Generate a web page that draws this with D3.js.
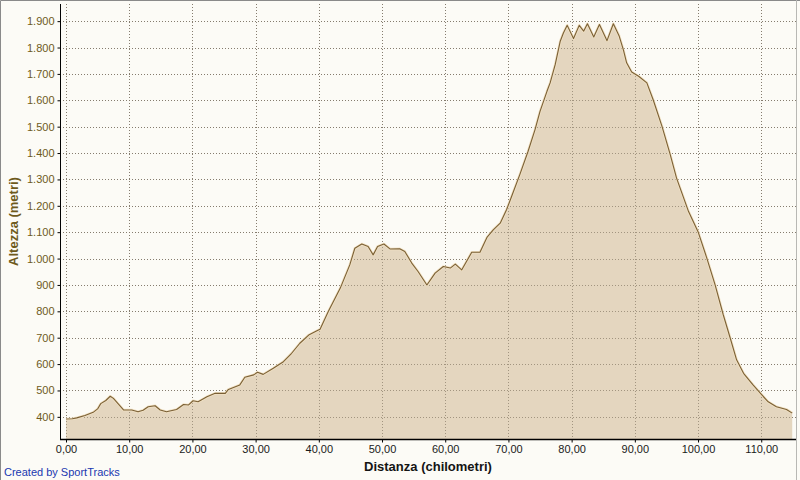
<!DOCTYPE html>
<html>
<head>
<meta charset="utf-8">
<script src="https://cdn.jsdelivr.net/npm/d3@7"></script>
<style>
  html, body { margin: 0; padding: 0; background: #fcfbf6; }
  svg { display: block; }
</style>
</head>
<body>
<svg id="chart" width="800" height="480"></svg>
<script>
// Distance (km)
const distanceKm = [0, 1.0, 1.7, 3.0, 4.3, 5.0, 5.5, 6.3, 7.0, 7.5, 8.3, 9.1, 10.4, 11.4, 12.2, 13.0, 14.1, 14.9, 15.9, 17.5,
  18.6, 19.4, 20.1, 20.9, 22.3, 23.6, 25.2, 25.7, 27.5, 28.3, 29.7, 30.3, 31.2, 32.8, 34.4, 35.7, 37.0, 38.4, 39.7, 40.2,
  41.5, 43.4, 44.9, 45.7, 46.8, 47.8, 48.6, 49.3, 50.3, 51.3, 52.8, 53.6, 54.7, 55.7, 57.1, 58.4, 59.7, 60.8, 61.6, 62.6,
  64.2, 65.5, 66.6, 67.6, 68.7, 69.7, 70.5, 71.8, 73.1, 74.2, 75.0, 76.1, 76.6, 77.4, 78.2, 78.7, 79.3, 80.3, 81.2, 81.9,
  82.5, 83.5, 84.4, 85.6, 86.6, 87.5, 88.2, 88.7, 89.5, 90.6, 91.9, 92.9, 94.3, 95.6, 96.6, 98.5, 100.0, 101.4, 102.7, 104.0,
  105.1, 106.1, 107.2, 108.7, 110.1, 111.1, 112.4, 114.0, 114.9];
// Altitude (m)
const altitudeM = [392, 393, 396, 405, 417, 430, 450, 462, 478, 470, 448, 426, 426, 419, 425, 438, 442, 426, 419, 428,
  447, 445, 461, 457, 476, 489, 489, 504, 521, 550, 559, 569, 561, 584, 609, 641, 679, 710, 726, 732,
  799, 888, 976, 1039, 1055, 1046, 1014, 1046, 1055, 1036, 1037, 1027, 983, 951, 900, 945, 970, 964, 979, 957,
  1024, 1024, 1080, 1109, 1134, 1185, 1235, 1318, 1406, 1488, 1558, 1634, 1666, 1735, 1824, 1855, 1884, 1834, 1884, 1862,
  1890, 1840, 1887, 1826, 1890, 1845, 1790, 1742, 1707, 1691, 1666, 1602, 1501, 1394, 1305, 1178, 1102, 1001, 900, 786,
  698, 616, 565, 521, 483, 457, 438, 428, 414];

const xTickValues = [0, 10, 20, 30, 40, 50, 60, 70, 80, 90, 100, 110];
const yTickValues = [400, 500, 600, 700, 800, 900, 1000, 1100, 1200, 1300, 1400, 1500, 1600, 1700, 1800, 1900];

const xTitle = "Distanza (chilometri)";
const yTitle = "Altezza (metri)";
const credit = "Created by SportTracks";

const data = distanceKm.map((d, i) => ({ km: d, alt: altitudeM[i] }));

const locale = d3.formatLocale({ decimal: ",", thousands: ".", grouping: [3], currency: ["", " €"] });
const fmtX = locale.format(".2f");
const fmtY = locale.format(",d");

const svg = d3.select("#chart");
const W = 800, H = 480;
const plot = { left: 60, right: 796, top: 4, bottom: 439 };

// background + border
svg.append("rect").attr("x", 0).attr("y", 0).attr("width", W).attr("height", H).attr("fill", "#fcfbf6");
svg.append("path").attr("d", `M0.5,${H} V0.5 H${W}`).attr("fill", "none").attr("stroke", "#8a8a8a");
svg.append("path").attr("d", `M796.5,0 V${H}`).attr("fill", "none").attr("stroke", "#b8b8b4");

const x = d3.scaleLinear().domain([-0.95, 115.5]).range([plot.left, plot.right]);
const y = d3.scaleLinear().domain([316, 1965]).range([plot.bottom, plot.top]);

// grid
const grid = svg.append("g");
grid.selectAll("line.h").data(yTickValues).enter().append("line")
  .attr("x1", plot.left).attr("x2", plot.right)
  .attr("y1", d => Math.round(y(d)) + 0.5).attr("y2", d => Math.round(y(d)) + 0.5)
  .attr("stroke", "#7a7a7a").attr("stroke-dasharray", "1,2");
grid.selectAll("line.v").data(xTickValues).enter().append("line")
  .attr("y1", plot.top).attr("y2", plot.bottom)
  .attr("x1", d => Math.round(x(d)) + 0.5).attr("x2", d => Math.round(x(d)) + 0.5)
  .attr("stroke", "#7a7a7a").attr("stroke-dasharray", "1,2");

// area
const area = d3.area().x(d => x(d.km)).y0(y(316)).y1(d => y(d.alt));
svg.append("path").datum(data).attr("d", area).attr("fill", "#e2d3ba").attr("fill-opacity", 0.92);
// redraw grid on top lightly (grid visible through fill in reference)
const grid2 = svg.append("g");
grid2.selectAll("line.h").data(yTickValues).enter().append("line")
  .attr("x1", plot.left).attr("x2", plot.right)
  .attr("y1", d => Math.round(y(d)) + 0.5).attr("y2", d => Math.round(y(d)) + 0.5)
  .attr("stroke", "#8a7e6a").attr("stroke-dasharray", "1,2").attr("stroke-opacity", 0.7);
grid2.selectAll("line.v").data(xTickValues).enter().append("line")
  .attr("y1", plot.top).attr("y2", plot.bottom)
  .attr("x1", d => Math.round(x(d)) + 0.5).attr("x2", d => Math.round(x(d)) + 0.5)
  .attr("stroke", "#8a7e6a").attr("stroke-dasharray", "1,2").attr("stroke-opacity", 0.7);

const line = d3.line().x(d => x(d.km)).y(d => y(d.alt));
svg.append("path").datum(data).attr("d", line).attr("fill", "none")
  .attr("stroke", "#f2e2c4").attr("stroke-width", 2.6).attr("stroke-linejoin", "round");
svg.append("path").datum(data).attr("d", line).attr("fill", "none")
  .attr("stroke", "#7a6036").attr("stroke-width", 1.1).attr("stroke-linejoin", "round");

// axes
const xAxis = d3.axisBottom(x).tickValues(xTickValues).tickFormat(fmtX).tickSize(3).tickPadding(3);
const yAxis = d3.axisLeft(y).tickValues(yTickValues).tickFormat(fmtY).tickSize(3).tickPadding(3);

const gx = svg.append("g").attr("transform", `translate(0,${plot.bottom + 0.5})`).call(xAxis);
gx.select(".domain").attr("d", `M${plot.left},0H${plot.right}`).attr("stroke", "#000").attr("stroke-width", 1.5);
gx.selectAll(".tick line").attr("stroke", "#000");
gx.selectAll(".tick text").attr("fill", "#1a1a1a").attr("font-family", "Liberation Sans, Arial, sans-serif").attr("font-size", 11);

const gy = svg.append("g").attr("transform", `translate(${plot.left + 0.5},0)`).call(yAxis);
gy.select(".domain").attr("d", `M0,${plot.top}V${plot.bottom}`).attr("stroke", "#000").attr("stroke-width", 1);
gy.selectAll(".tick line").attr("stroke", "#000");
gy.selectAll(".tick text").attr("fill", "#6e5a1c").attr("font-family", "Liberation Sans, Arial, sans-serif").attr("font-size", 11);

// titles
svg.append("text").attr("x", (plot.left + plot.right) / 2).attr("y", 471)
  .attr("text-anchor", "middle").attr("font-family", "Liberation Sans, Arial, sans-serif")
  .attr("font-size", 13).attr("font-weight", "bold").attr("fill", "#141414").text(xTitle);
svg.append("text").attr("transform", `translate(18,${(plot.top + plot.bottom) / 2}) rotate(-90)`)
  .attr("text-anchor", "middle").attr("font-family", "Liberation Sans, Arial, sans-serif")
  .attr("font-size", 13).attr("font-weight", "bold").attr("fill", "#6e5a1c").text(yTitle);
svg.append("text").attr("x", 4).attr("y", 476)
  .attr("font-family", "Liberation Sans, Arial, sans-serif").attr("font-size", 11)
  .attr("fill", "#2038b0").text(credit);
</script>
</body>
</html>
